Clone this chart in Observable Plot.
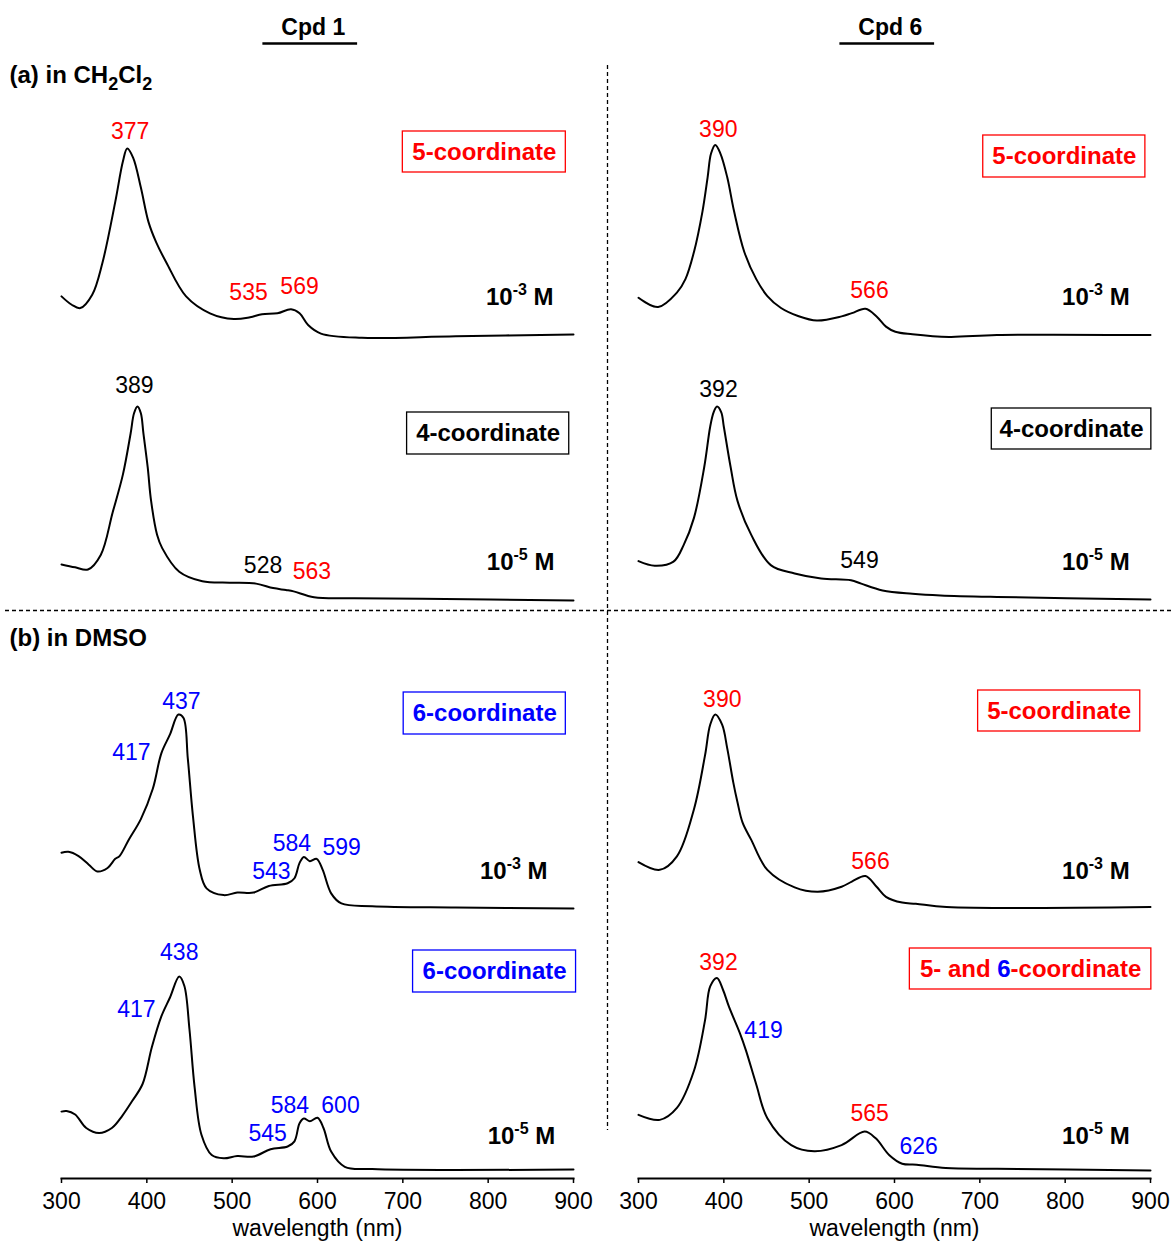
<!DOCTYPE html>
<html>
<head>
<meta charset="utf-8">
<script src="https://cdn.jsdelivr.net/npm/d3@7"></script>
<script src="https://cdn.jsdelivr.net/npm/@observablehq/plot@0.6"></script>
<style>
  body { margin: 0; background: #fff; }
  #chart { width: 1173px; height: 1243px; }
  #chart svg text { white-space: pre; }
</style>
</head>
<body>
<div id="chart"></div>
<script>
// ---------------------------------------------------------------------------
// Data
// ---------------------------------------------------------------------------
const compounds = ["Cpd 1", "Cpd 6"];
const solventHeadings = [
  {tag: "a", solvent: "CH2Cl2"},
  {tag: "b", solvent: "DMSO"}
];
const wavelengthTicks = [300, 400, 500, 600, 700, 800, 900];

// UV-vis spectra: [wavelength (nm), absorbance scaled to the Soret maximum]
const cpd1_CH2Cl2_1e3 = [[300,.205],[312,.16],[322,.142],[336,.214],[348,.386],[363,.713],[372,.931],[377,1],[384,.95],[393,.79],[402,.604],[411,.495],[423,.386],[446,.205],[474,.114],[502,.083],[521,.093],[535,.109],[553,.114],[569,.136],[579,.114],[589,.051],[604,.005],[652,-.018],[762,-.009],[900,0]];
const cpd6_CH2Cl2_1e3 = [[300,.196],[323,.147],[345,.223],[355,.294],[365,.437],[375,.651],[381,.83],[385,.955],[390,1],[396,.955],[404,.83],[412,.651],[424,.437],[438,.294],[451,.205],[467,.142],[487,.10],[509,.076],[538,.098],[550,.115],[566,.138],[579,.098],[590,.044],[601,.017],[621,.004],[664,-.01],[720,0],[900,0]];
const cpd1_CH2Cl2_1e5 = [[300,.186],[316,.171],[331,.16],[346,.235],[360,.455],[372,.65],[381,.861],[385,.965],[389,1],[393,.965],[396,.861],[401,.687],[405,.513],[412,.339],[418,.27],[438,.148],[465,.099],[497,.092],[528,.087],[548,.064],[563,.054],[572,.047],[596,.017],[643,.012],[723,.009],[900,0]];
const cpd6_CH2Cl2_1e5 = [[300,.199],[319,.175],[341,.196],[353,.283],[365,.423],[377,.685],[384,.895],[388,.97],[392,1],[397,.97],[400,.895],[408,.685],[416,.511],[432,.336],[455,.178],[483,.135],[514,.109],[549,.10],[561,.082],[586,.047],[621,.030],[654,.021],[720,.013],[900,0]];
const cpd1_DMSO_1e3 = [[300,.287],[308,.292],[320,.27],[332,.226],[342,.191],[354,.209],[363,.256],[368,.27],[379,.356],[393,.461],[407,.617],[417,.80],[427,.896],[437,1],[443,.982],[448,.774],[454,.478],[462,.20],[470,.104],[490,.069],[506,.082],[525,.082],[543,.116],[565,.13],[573,.156],[579,.235],[584,.266],[591,.244],[599,.256],[606,.20],[616,.078],[628,.026],[664,.012],[762,.005],[900,0]];
const cpd6_DMSO_1e3 = [[300,.233],[325,.193],[345,.263],[365,.508],[378,.789],[384,.947],[390,1],[398,.947],[404,.824],[411,.649],[416,.544],[422,.438],[432,.35],[451,.193],[483,.102],[510,.079],[538,.105],[550,.132],[566,.161],[579,.105],[590,.053],[609,.023],[625,.017],[661,0],[900,0]];
const cpd1_DMSO_1e5 = [[300,.30],[306,.303],[316,.285],[329,.215],[344,.189],[359,.215],[371,.277],[383,.356],[395,.443],[406,.636],[417,.793],[427,.89],[438,1],[444,.951],[450,.724],[456,.426],[464,.18],[476,.075],[490,.058],[506,.07],[525,.067],[545,.105],[565,.119],[573,.146],[579,.24],[584,.264],[591,.25],[600,.268],[607,.215],[616,.093],[632,.014],[664,.002],[900,0]];
const cpd6_DMSO_1e5 = [[300,.289],[325,.263],[345,.325],[365,.518],[378,.781],[384,.956],[392,1],[399,.939],[406,.851],[419,.711],[426,.623],[438,.447],[451,.272],[479,.132],[506,.10],[538,.132],[565,.202],[578,.167],[594,.079],[609,.035],[626,.03],[660,.013],[720,.009],[900,0]];

const panels = [
  {id: "1-CH2Cl2-3", compound: "Cpd 1", conc: "10-3 M", spectrum: cpd1_CH2Cl2_1e3},
  {id: "6-CH2Cl2-3", compound: "Cpd 6", conc: "10-3 M", spectrum: cpd6_CH2Cl2_1e3},
  {id: "1-CH2Cl2-5", compound: "Cpd 1", conc: "10-5 M", spectrum: cpd1_CH2Cl2_1e5},
  {id: "6-CH2Cl2-5", compound: "Cpd 6", conc: "10-5 M", spectrum: cpd6_CH2Cl2_1e5},
  {id: "1-DMSO-3",   compound: "Cpd 1", conc: "10-3 M", spectrum: cpd1_DMSO_1e3},
  {id: "6-DMSO-3",   compound: "Cpd 6", conc: "10-3 M", spectrum: cpd6_DMSO_1e3},
  {id: "1-DMSO-5",   compound: "Cpd 1", conc: "10-5 M", spectrum: cpd1_DMSO_1e5},
  {id: "6-DMSO-5",   compound: "Cpd 6", conc: "10-5 M", spectrum: cpd6_DMSO_1e5}
];

// Band maxima and shoulders (nm), with the coordination number they belong to
const bandLabels = [
  {panel: "1-CH2Cl2-3", nm: 377, coord: 5}, {panel: "1-CH2Cl2-3", nm: 535, coord: 5}, {panel: "1-CH2Cl2-3", nm: 569, coord: 5},
  {panel: "6-CH2Cl2-3", nm: 390, coord: 5}, {panel: "6-CH2Cl2-3", nm: 566, coord: 5},
  {panel: "1-CH2Cl2-5", nm: 389, coord: 4}, {panel: "1-CH2Cl2-5", nm: 528, coord: 4}, {panel: "1-CH2Cl2-5", nm: 563, coord: 5},
  {panel: "6-CH2Cl2-5", nm: 392, coord: 4}, {panel: "6-CH2Cl2-5", nm: 549, coord: 4},
  {panel: "1-DMSO-3", nm: 437, coord: 6}, {panel: "1-DMSO-3", nm: 417, coord: 6}, {panel: "1-DMSO-3", nm: 543, coord: 6},
  {panel: "1-DMSO-3", nm: 584, coord: 6}, {panel: "1-DMSO-3", nm: 599, coord: 6},
  {panel: "6-DMSO-3", nm: 390, coord: 5}, {panel: "6-DMSO-3", nm: 566, coord: 5},
  {panel: "1-DMSO-5", nm: 438, coord: 6}, {panel: "1-DMSO-5", nm: 417, coord: 6}, {panel: "1-DMSO-5", nm: 545, coord: 6},
  {panel: "1-DMSO-5", nm: 584, coord: 6}, {panel: "1-DMSO-5", nm: 600, coord: 6},
  {panel: "6-DMSO-5", nm: 392, coord: 5}, {panel: "6-DMSO-5", nm: 419, coord: 6}, {panel: "6-DMSO-5", nm: 565, coord: 5},
  {panel: "6-DMSO-5", nm: 626, coord: 6}
];

// Species present in each solution
const speciesPresent = [
  {panel: "1-CH2Cl2-3", coords: [5]}, {panel: "6-CH2Cl2-3", coords: [5]},
  {panel: "1-CH2Cl2-5", coords: [4]}, {panel: "6-CH2Cl2-5", coords: [4]},
  {panel: "1-DMSO-3", coords: [6]},   {panel: "6-DMSO-3", coords: [5]},
  {panel: "1-DMSO-5", coords: [6]},   {panel: "6-DMSO-5", coords: [5, 6]}
];

// ---------------------------------------------------------------------------
// Layout (vertical positions are pixels; the y scale is an identity scale)
// ---------------------------------------------------------------------------
const FONT = '"Liberation Sans", Arial, Helvetica, sans-serif';
const COORD_COLORS = {4: "#000000", 5: "#ff0000", 6: "#0000ff"};
const PX_PER_NM = 512 / 600;
const AXIS_Y = 1178;

const panelLayout = {
  "1-CH2Cl2-3": {base: 334,  amp: 186,   box: [700, 891, 131, 172], conc: [837, 297]},
  "6-CH2Cl2-3": {base: 334.5, amp: 190,  box: [704, 894, 135, 177], conc: [836, 297]},
  "1-CH2Cl2-5": {base: 600,  amp: 194,   box: [705, 895, 412, 454], conc: [838, 562]},
  "6-CH2Cl2-5": {base: 599,  amp: 193,   box: [714, 901, 408, 449], conc: [836, 562]},
  "1-DMSO-3":   {base: 908,  amp: 194,   box: [701, 891, 692, 734], conc: [830, 871]},
  "6-DMSO-3":   {base: 906.5, amp: 192.5, box: [698, 888, 690, 731], conc: [836, 871]},
  "1-DMSO-5":   {base: 1169, amp: 193,   box: [712, 903, 950, 992], conc: [839, 1136]},
  "6-DMSO-5":   {base: 1170, amp: 192.5, box: [618, 901, 948, 989], conc: [836, 1136]}
};

// label offset from the curve point, in pixels [dx, dy]
const bandLabelOffset = {
  "1-CH2Cl2-3:377": [3, -17], "1-CH2Cl2-3:535": [-13.5, -22], "1-CH2Cl2-3:569": [8.5, -23],
  "6-CH2Cl2-3:390": [3, -15], "6-CH2Cl2-3:566": [4, -18],
  "1-CH2Cl2-5:389": [-3, -21], "1-CH2Cl2-5:528": [7, -18], "1-CH2Cl2-5:563": [26, -18.5],
  "6-CH2Cl2-5:392": [1.5, -17], "6-CH2Cl2-5:549": [8.5, -20],
  "1-DMSO-3:437": [3, -13], "1-DMSO-3:417": [-30, -1], "1-DMSO-3:543": [2.5, -14.5],
  "1-DMSO-3:584": [-12, -13], "1-DMSO-3:599": [25, -11],
  "6-DMSO-3:390": [7, -15], "6-DMSO-3:566": [5, -14.5],
  "1-DMSO-5:438": [0, -24], "1-DMSO-5:417": [-25, -7], "1-DMSO-5:545": [-3, -16],
  "1-DMSO-5:584": [-14, -13], "1-DMSO-5:600": [23, -12],
  "6-DMSO-5:392": [1.5, -15.5], "6-DMSO-5:419": [23.5, -3], "6-DMSO-5:565": [5, -18],
  "6-DMSO-5:626": [2, -18]
};

const headingY = {a: 75, b: 638};

// ---------------------------------------------------------------------------
// Derived tables for the marks
// ---------------------------------------------------------------------------
const panelById = Object.fromEntries(panels.map(p => [p.id, p]));

function absorbanceAt(spectrum, nm) {
  for (let i = 1; i < spectrum.length; i++) {
    const [x0, a0] = spectrum[i - 1], [x1, a1] = spectrum[i];
    if (nm <= x1) return a0 + (a1 - a0) * (nm - x0) / (x1 - x0);
  }
  return spectrum[spectrum.length - 1][1];
}

const lineData = panels.flatMap(p => {
  const L = panelLayout[p.id];
  return p.spectrum.map(([nm, a]) => ({id: p.id, compound: p.compound, nm, y: L.base - a * L.amp}));
});

const labelData = bandLabels.map(b => {
  const p = panelById[b.panel], L = panelLayout[b.panel];
  const [dx, dy] = bandLabelOffset[`${b.panel}:${b.nm}`];
  return {
    compound: p.compound, text: String(b.nm), coord: b.coord,
    x: b.nm + dx / PX_PER_NM,
    y: L.base - absorbanceAt(p.spectrum, b.nm) * L.amp + dy
  };
});

const boxData = speciesPresent.map(s => {
  const p = panelById[s.panel], [x1, x2, y1, y2] = panelLayout[s.panel].box;
  const text = s.coords.length === 1
    ? `${s.coords[0]}-coordinate`
    : `${s.coords[0]}- and ${s.coords[1]}-coordinate`;
  return {compound: p.compound, coord: s.coords[0], text, x1, x2, y1, y2};
});

const concData = panels.map(p => {
  const [x, y] = panelLayout[p.id].conc;
  return {compound: p.compound, text: p.conc, x, y};
});

// ---------------------------------------------------------------------------
// Plot
// ---------------------------------------------------------------------------
const plot = Plot.plot({
  width: 1173,
  height: 1243,
  marginTop: 0,
  marginBottom: 1243 - AXIS_Y,
  marginLeft: 61,
  marginRight: 23,
  style: {fontFamily: FONT, background: "#fff", color: "#000"},
  x: {domain: [300, 900]},
  y: {type: "identity", axis: null},
  fx: {domain: compounds, paddingInner: 65 / 577, paddingOuter: 0, round: false, axis: null},
  color: {type: "ordinal", domain: [4, 5, 6], range: [COORD_COLORS[4], COORD_COLORS[5], COORD_COLORS[6]]},
  marks: [
    // panel dividers
    Plot.ruleY([610], {fx: () => "Cpd 1", insetLeft: -56, insetRight: -600, stroke: "#000", strokeWidth: 1.3, strokeDasharray: "4,3"}),
    Plot.ruleX([300], {fx: () => "Cpd 6", dx: -31, y1: () => 65, y2: () => 1130, stroke: "#000", strokeWidth: 1.3, strokeDasharray: "4,3"}),

    // column headers
    Plot.text(compounds, {fx: d => d, text: d => d, x: () => 595, y: () => 27, fontSize: 23, fontWeight: "bold"}),
    Plot.ruleY(compounds, {fx: d => d, y: () => 43, x1: () => 536, x2: () => 647, strokeWidth: 2.5}),

    // solvent headings
    Plot.text(solventHeadings, {
      fx: () => "Cpd 1", frameAnchor: "left", dx: -52, y: d => headingY[d.tag],
      text: d => `(${d.tag}) in ${d.solvent}`, textAnchor: "start", lineAnchor: "middle",
      fontSize: 24, fontWeight: "bold"
    }),

    // spectra
    Plot.line(lineData, {fx: "compound", x: "nm", y: "y", z: "id", curve: "catmull-rom", stroke: "#000", strokeWidth: 2}),

    // band labels
    Plot.text(labelData, {fx: "compound", x: "x", y: "y", text: "text", fill: "coord", fontSize: 23}),

    // coordination boxes
    Plot.rect(boxData, {fx: "compound", x1: "x1", x2: "x2", y1: "y1", y2: "y2", stroke: "coord", fill: "none", strokeWidth: 1.3}),
    Plot.text(boxData, {
      fx: "compound", x: d => (d.x1 + d.x2) / 2, y: d => (d.y1 + d.y2) / 2, text: "text",
      fill: "coord", fontSize: 24, fontWeight: "bold"
    }),

    // concentrations
    Plot.text(concData, {fx: "compound", x: "x", y: "y", text: "text", fontSize: 24, fontWeight: "bold"}),

    // wavelength axis
    Plot.frame({anchor: "bottom", strokeWidth: 2}),
    Plot.axisX({ticks: wavelengthTicks, tickFormat: d => String(d), tickSize: 5, tickPadding: 9, fontSize: 23, strokeWidth: 1.5, label: null}),
    Plot.text(["wavelength (nm)"], {text: d => d, frameAnchor: "bottom", lineAnchor: "middle", dy: 50, fontSize: 23})
  ]
});

document.getElementById("chart").append(plot);

// ---------------------------------------------------------------------------
// Rich text: superscript exponents, formula subscripts, two-colour species label
// ---------------------------------------------------------------------------
const allText = d3.select(plot).selectAll("text");

// "10-3 M" -> 10 with a raised exponent
allText.filter(function () { return /^\d+-\d+ M$/.test(this.textContent); }).each(function () {
  const t = d3.select(this);
  const m = t.text().match(/^(\d+)(-\d+) (.*)$/);
  t.text(null);
  t.append("tspan").text(m[1]);
  t.append("tspan").attr("dy", -10).attr("font-size", 16).text(m[2]);
  t.append("tspan").attr("dy", 10).text(" " + m[3]);
});

// "(a) in CH2Cl2" -> formula digits as subscripts
allText.filter(function () { return /^\(\w\) in /.test(this.textContent); }).each(function () {
  const t = d3.select(this);
  const parts = t.text().split(/(\d+)/);
  t.text(null);
  parts.forEach((s, i) => {
    if (!s) return;
    const span = t.append("tspan").text(s);
    if (i % 2 === 1) span.attr("dy", 7).attr("font-size", 18);
    else if (i > 0) span.attr("dy", -7);
  });
});

// "5- and 6-coordinate" -> each number in its own colour
allText.filter(function () { return /^\d- and \d-coordinate$/.test(this.textContent); }).each(function () {
  const t = d3.select(this);
  const m = t.text().match(/^(\d)(- and )(\d)(-coordinate)$/);
  t.text(null);
  t.append("tspan").attr("fill", COORD_COLORS[m[1]]).text(m[1] + m[2]);
  t.append("tspan").attr("fill", COORD_COLORS[m[3]]).text(m[3]);
  t.append("tspan").attr("fill", COORD_COLORS[m[1]]).text(m[4]);
});
</script>
</body>
</html>
